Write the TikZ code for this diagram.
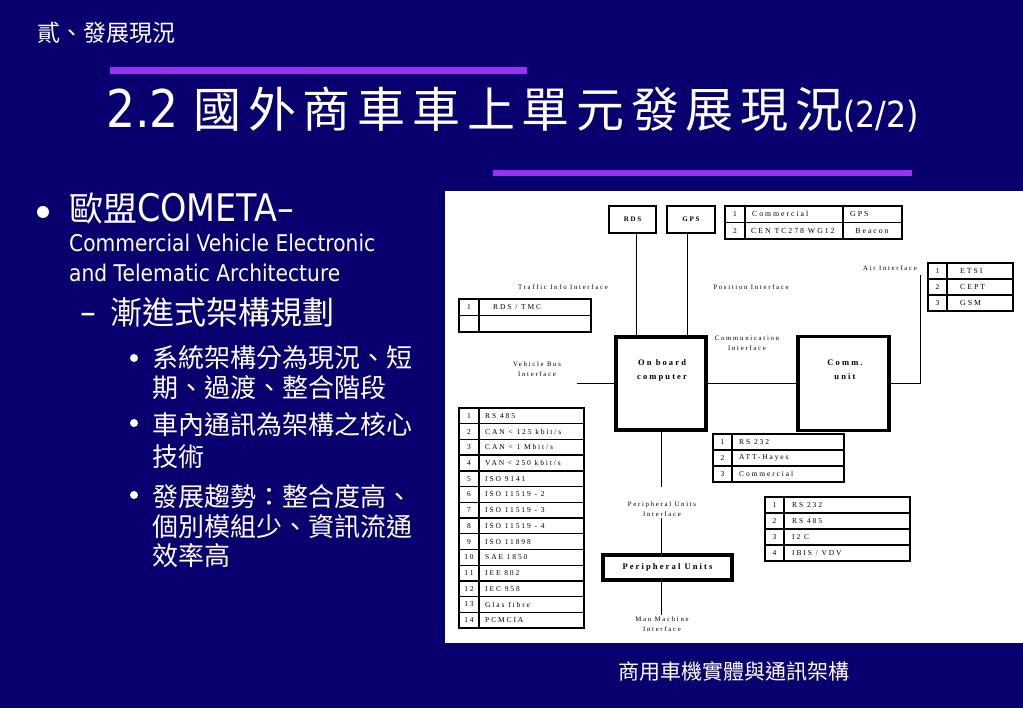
\documentclass[tikz,border=0pt]{standalone}
\usepackage{fontspec}
\setmainfont[FakeStretch=0.88]{DejaVu Sans}
\newfontfamily\cjk{Noto Sans CJK TC}
\newfontfamily\cjktitle[LetterSpace=14]{Noto Sans CJK TC}
\newfontfamily\figfont[LetterSpace=25]{Liberation Serif}
\usepackage{tikz}
\definecolor{slidebg}{RGB}{8,0,110}
\definecolor{rulecolor}{RGB}{150,50,240}

\begin{document}
\begin{tikzpicture}[x=1pt, y=-1pt,
  slidetext/.style={text=white, inner sep=0pt, anchor=west},
  bulletdot/.style={circle, fill=white, inner sep=0pt},
  box/.style={draw, line width=1.2pt, inner sep=0pt, font=\figfont\bfseries\fontsize{7}{8}\selectfont},
  unit/.style={draw, line width=3.2pt, inner sep=0pt},
  unitlbl/.style={align=center, inner sep=0pt, font=\figfont\bfseries\fontsize{8.5}{14}\selectfont},
  lbl/.style={align=center, inner sep=1pt, font=\figfont\fontsize{6.8}{10}\selectfont},
  cell/.style={anchor=west, inner sep=0pt, font=\figfont\fontsize{7.5}{8}\selectfont},
  num/.style={inner sep=0pt, font=\figfont\fontsize{7.5}{8}\selectfont},
  bigcell/.style={cell, font=\figfont\fontsize{7.8}{9}\selectfont},
  tbl/.style={line width=1.2pt},
  wire/.style={line width=1pt}]
  \useasboundingbox (0,0) rectangle (1023,708);
  \fill[slidebg] (0,0) rectangle (1023,708);

  % Header and title
  \node[slidetext, font=\cjk\fontsize{23}{23}\selectfont] (chapter) at (37,33) {貳、發展現況};
  \fill[rulecolor] (110,67) rectangle (527,74);
  \fill[rulecolor] (493,170) rectangle (912,176);
  \node[slidetext, anchor=base west, font=\fontsize{52}{52}\selectfont] (title) at (106,128)
    {2.2 {\cjktitle\fontsize{48}{48}\selectfont 國外商車車上單元發展現況}{\fontsize{36}{36}\selectfont(2/2)}};

  % Bullet text
  \node[bulletdot, minimum size=12pt] (dot1) at (43,212) {};
  \node[slidetext, anchor=base west] (cometa) at (69,222)
    {{\cjk\fontsize{34}{34}\selectfont 歐盟}{\fontsize{38}{38}\selectfont COMETA–}};
  \node[slidetext, anchor=base west, font=\fontsize{23}{23}\selectfont] (cometa2) at (69,252) {Commercial Vehicle Electronic};
  \node[slidetext, anchor=base west, font=\fontsize{23}{23}\selectfont] (cometa3) at (69,282) {and Telematic Architecture};
  \node[slidetext, anchor=base west] (plan) at (80,325)
    {{\fontsize{36}{36}\selectfont –}\hspace*{14pt}{\cjk\fontsize{32}{32}\selectfont 漸進式架構規劃}};

  \node[bulletdot, minimum size=8pt] (dot2) at (134,358) {};
  \node[bulletdot, minimum size=8pt] (dot3) at (134,423) {};
  \node[bulletdot, minimum size=8pt] (dot4) at (134,495) {};
  \node[slidetext, font=\cjk\fontsize{26}{26}\selectfont] (stage1) at (152,358) {系統架構分為現況、短};
  \node[slidetext, font=\cjk\fontsize{26}{26}\selectfont] (stage2) at (152,388) {期、過渡、整合階段};
  \node[slidetext, font=\cjk\fontsize{26}{26}\selectfont] (core1) at (152,425) {車內通訊為架構之核心};
  \node[slidetext, font=\cjk\fontsize{26}{26}\selectfont] (core2) at (152,457) {技術};
  \node[slidetext, font=\cjk\fontsize{26}{26}\selectfont] (trend1) at (152,497) {發展趨勢：整合度高、};
  \node[slidetext, font=\cjk\fontsize{26}{26}\selectfont] (trend2) at (152,527) {個別模組少、資訊流通};
  \node[slidetext, font=\cjk\fontsize{26}{26}\selectfont] (trend3) at (152,556) {效率高};

  \node[slidetext, font=\cjk\fontsize{21}{21}\selectfont] (caption) at (618,671) {商用車機實體與通訊架構};

  % Architecture figure
  \fill[white] (445,191) rectangle (1023,643);

  \node[box, minimum width=47pt, minimum height=27pt] (rds) at (632.5,219.5) {RDS};
  \node[box, minimum width=48pt, minimum height=27pt] (gps) at (691,219.5) {GPS};

  \node[unit, minimum width=90pt, minimum height=93pt] (obc) at (661,383.5) {};
  \node[unitlbl] (obctext) at (662,370) {On board\\computer};
  \node[unit, minimum width=91pt, minimum height=94pt] (comm) at (843.5,383.5) {};
  \node[unitlbl] (commtext) at (845,370) {Comm.\\unit};
  \node[unit, minimum width=129pt, minimum height=25pt, font=\figfont\bfseries\fontsize{8.5}{10}\selectfont] (pu) at (667.5,567.5) {Peripheral Units};

  % Interface labels
  \node[lbl] (trafficif) at (563,287) {Traffic Info Interface};
  \node[lbl] (positionif) at (751,287) {Position Interface};
  \node[lbl] (airif) at (890,268) {Air Interface};
  \node[lbl] (commif) at (747,343) {Communication\\Interface};
  \node[lbl] (vbusif) at (537,369) {Vehicle Bus\\Interface};
  \node[lbl] (puif) at (662,509) {Peripheral Units\\Interface};
  \node[lbl] (mmif) at (662,624) {Man Machine\\Interface};

  \coordinate (vbus) at (577,383.5);
  \coordinate (putop) at (661,487);
  \coordinate (aircorner) at (920,383.5);
  \coordinate (airend) at (920,275);

  % Wires
  \draw[wire] ([xshift=3.5pt]rds.south) -- ([xshift=3.5pt]rds.south |- obc.north);
  \draw[wire] ([xshift=-4pt]gps.south) -- ([xshift=-4pt]gps.south |- obc.north);
  \draw[wire] (vbus) -- (obc.west);
  \draw[wire] (obc.east) -- (comm.west);
  \draw[wire] (comm.east) -- (aircorner) -- (airend);
  \draw[wire] (obc.south) -- (putop);
  \draw[wire] (puif.south -| obc.south) -- (pu.north -| obc.south);
  \draw[wire] (pu.south -| obc.south) -- (mmif.north -| obc.south);

  % Traffic info table
  \draw[tbl] (459,299) rectangle (591,332);
  \draw[tbl] (459,315.5) -- (591,315.5);
  \draw[tbl] (479,299) -- (479,332);
  \node[num] (tmcn1) at (469,307) {1};
  \node[cell] (tmc1) at (493,307) {RDS / TMC};

  % Position table
  \draw[tbl] (725,206) rectangle (902,239);
  \draw[tbl] (725,222.5) -- (902,222.5);
  \draw[tbl] (745,206) -- (745,239);
  \draw[tbl] (843,206) -- (843,239);
  \node[num] (posn1) at (735,214) {1};
  \node[bigcell] (pos1) at (752,214) {Commercial};
  \node[bigcell] (posk1) at (850,214) {GPS};
  \node[num] (posn2) at (735,231) {2};
  \node[bigcell] (pos2) at (751,231) {CEN TC278 WG12};
  \node[bigcell, anchor=center] (posk2) at (872,231) {Beacon};

  % Air interface table
  \draw[tbl] (928,263) rectangle (1013,311);
  \draw[tbl] (928,279) -- (1013,279);
  \draw[tbl] (928,295) -- (1013,295);
  \draw[tbl] (947,263) -- (947,311);
  \node[num] (airn1) at (937.5,271) {1};
  \node[bigcell] (air1) at (960,271) {ETSI};
  \node[num] (airn2) at (937.5,287) {2};
  \node[bigcell] (air2) at (960,287) {CEPT};
  \node[num] (airn3) at (937.5,303) {3};
  \node[bigcell] (air3) at (960,303) {GSM};

  % Vehicle bus table
  \draw[tbl] (459,408) rectangle (584,628);
  \draw[tbl] (479,408) -- (479,628);
  \draw[tbl] (459,423.7) -- (584,423.7);
  \draw[tbl] (459,439.4) -- (584,439.4);
  \draw[tbl] (459,455.1) -- (584,455.1);
  \draw[tbl] (459,470.9) -- (584,470.9);
  \draw[tbl] (459,486.6) -- (584,486.6);
  \draw[tbl] (459,502.3) -- (584,502.3);
  \draw[tbl] (459,518.0) -- (584,518.0);
  \draw[tbl] (459,533.7) -- (584,533.7);
  \draw[tbl] (459,549.4) -- (584,549.4);
  \draw[tbl] (459,565.1) -- (584,565.1);
  \draw[tbl] (459,580.9) -- (584,580.9);
  \draw[tbl] (459,596.6) -- (584,596.6);
  \draw[tbl] (459,612.3) -- (584,612.3);
  \node[num] (busn1) at (469,415.9) {1};
  \node[cell] (bus1) at (485,415.9) {RS 485};
  \node[num] (busn2) at (469,431.6) {2};
  \node[cell] (bus2) at (485,431.6) {CAN < 125 kbit/s};
  \node[num] (busn3) at (469,447.3) {3};
  \node[cell] (bus3) at (485,447.3) {CAN < 1 Mbit/s};
  \node[num] (busn4) at (469,463.0) {4};
  \node[cell] (bus4) at (485,463.0) {VAN < 250 kbit/s};
  \node[num] (busn5) at (469,478.7) {5};
  \node[cell] (bus5) at (485,478.7) {ISO 9141};
  \node[num] (busn6) at (469,494.4) {6};
  \node[cell] (bus6) at (485,494.4) {ISO 11519 - 2};
  \node[num] (busn7) at (469,510.1) {7};
  \node[cell] (bus7) at (485,510.1) {ISO 11519 - 3};
  \node[num] (busn8) at (469,525.9) {8};
  \node[cell] (bus8) at (485,525.9) {ISO 11519 - 4};
  \node[num] (busn9) at (469,541.6) {9};
  \node[cell] (bus9) at (485,541.6) {ISO 11898};
  \node[num] (busn10) at (469,557.3) {10};
  \node[cell] (bus10) at (485,557.3) {SAE 1850};
  \node[num] (busn11) at (469,573.0) {11};
  \node[cell] (bus11) at (485,573.0) {IEE 802};
  \node[num] (busn12) at (469,588.7) {12};
  \node[cell] (bus12) at (485,588.7) {IEC 958};
  \node[num] (busn13) at (469,604.4) {13};
  \node[cell] (bus13) at (485,604.4) {Glas fibre};
  \node[num] (busn14) at (469,620.1) {14};
  \node[cell] (bus14) at (485,620.1) {PCMCIA};

  % Communication table
  \draw[tbl] (713,434) rectangle (844,482);
  \draw[tbl] (713,450) -- (844,450);
  \draw[tbl] (713,466) -- (844,466);
  \draw[tbl] (732,434) -- (732,482);
  \node[num] (comn1) at (722.5,442) {1};
  \node[cell] (com1) at (739,442) {RS 232};
  \node[num] (comn2) at (722.5,458) {2};
  \node[cell] (com2) at (739,458) {ATT-Hayes};
  \node[num] (comn3) at (722.5,474) {3};
  \node[cell] (com3) at (739,474) {Commercial};

  % Peripheral table
  \draw[tbl] (765,497) rectangle (910,561);
  \draw[tbl] (765,513) -- (910,513);
  \draw[tbl] (765,529) -- (910,529);
  \draw[tbl] (765,545) -- (910,545);
  \draw[tbl] (784,497) -- (784,561);
  \node[num] (perin1) at (774.5,505) {1};
  \node[cell] (peri1) at (792,505) {RS 232};
  \node[num] (perin2) at (774.5,521) {2};
  \node[cell] (peri2) at (792,521) {RS 485};
  \node[num] (perin3) at (774.5,537) {3};
  \node[cell] (peri3) at (792,537) {I2 C};
  \node[num] (perin4) at (774.5,553) {4};
  \node[cell] (peri4) at (792,553) {IBIS / VDV};
\end{tikzpicture}
\end{document}
